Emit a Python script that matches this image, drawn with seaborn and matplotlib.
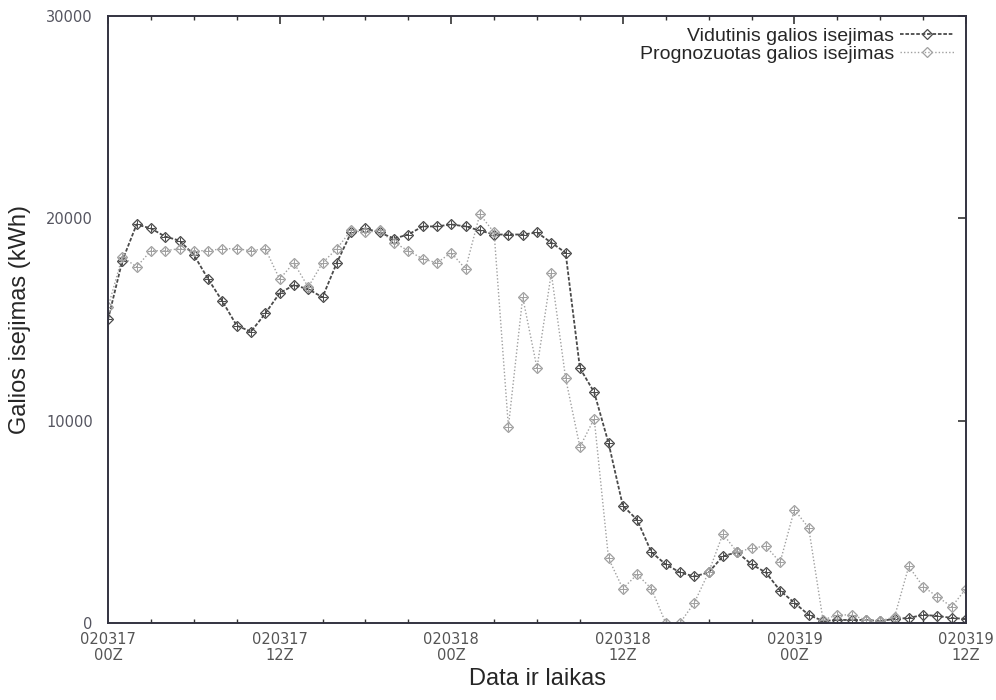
import numpy as np
import pandas as pd
import matplotlib
matplotlib.use("Agg")
import matplotlib.pyplot as plt
import seaborn as sns
from matplotlib.ticker import MultipleLocator

# hours since 020317 00Z
hours = list(range(0, 61))

actual = [15000, 17900, 19700, 19500, 19100, 18900, 18200, 17000, 15900, 14700,
          14400, 15300, 16300, 16700, 16500, 16100, 17800, 19300, 19500, 19300,
          19000, 19200, 19600, 19600, 19700, 19600, 19400, 19200, 19200, 19200,
          19300, 18800, 18300, 12600, 11400, 8900, 5800, 5100, 3500, 2900,
          2500, 2300, 2500, 3300, 3500, 2900, 2500, 1600, 1000, 400,
          100, 150, 150, 150, 100, 200, 250, 400, 350, 250, 200]

forecast = [15600, 18100, 17600, 18400, 18400, 18500, 18400, 18400, 18500, 18500,
            18400, 18500, 17000, 17800, 16600, 17800, 18500, 19400, 19300, 19400,
            18800, 18400, 18000, 17800, 18300, 17500, 20200, 19300, 9700, 16100,
            12600, 17300, 12100, 8700, 10100, 3200, 1700, 2400, 1700, 0,
            0, 1000, 2500, 4400, 3500, 3700, 3800, 3000, 5600, 4700,
            150, 400, 400, 150, 100, 300, 2800, 1800, 1300, 800, 1700]

tick_hours = [0, 12, 24, 36, 48, 60]
tick_labels = ["020317\n00Z", "020317\n12Z", "020318\n00Z", "020318\n12Z",
               "020319\n00Z", "020319\n12Z"]
series_names = ["Vidutinis galios isejimas", "Prognozuotas galios isejimas"]

df = pd.DataFrame({
    "h": hours * 2,
    "v": actual + forecast,
    "s": [series_names[0]] * len(hours) + [series_names[1]] * len(hours),
})

sns.set_style("white")
plt.rcParams["font.family"] = ["Liberation Sans", "DejaVu Sans"]

fig = plt.figure(figsize=(9.96, 7.0), dpi=100)
ax = fig.add_axes([108 / 996, 1 - 623 / 700, (966 - 108) / 996, (623 - 16) / 700])

colors = {series_names[0]: "#4a4a4a", series_names[1]: "#a0a0a0"}
dashes = {series_names[0]: (2, 1), series_names[1]: (1, 1.5)}
widths = {series_names[0]: 1.3, series_names[1]: 1.0}

for name in series_names:
    sub = df[df["s"] == name]
    sns.lineplot(data=sub, x="h", y="v", ax=ax, color=colors[name],
                 linewidth=widths[name], dashes=False, label=name,
                 marker="D", markersize=5, markerfacecolor="none",
                 markeredgecolor=colors[name], markeredgewidth=0.9)
    ax.lines[-1].set_dashes(dashes[name])
    ax.plot(sub["h"], sub["v"], linestyle="none", marker="+", markersize=6,
            color=colors[name], markeredgewidth=0.7)

ax.set_xlim(0, 60)
ax.set_ylim(0, 30000)
ax.set_xticks(tick_hours)
ax.set_xticklabels(tick_labels, family="DejaVu Sans", fontsize=10.5, color="#555555",
                   linespacing=1.05)
ax.set_yticks([0, 10000, 20000, 30000])
ax.set_yticklabels(["0", "10000", "20000", "30000"], family="DejaVu Sans",
                   fontsize=10.5, color="#555560")
ax.xaxis.set_minor_locator(MultipleLocator(3))
ax.tick_params(axis="both", which="major", direction="in", length=6, width=1.2,
               top=True, right=True, color="#333333")
ax.tick_params(axis="x", which="major", pad=6.5)
ax.tick_params(axis="y", which="major", pad=11)
ax.tick_params(axis="x", which="minor", direction="in", length=3, width=1.0,
               top=True, bottom=True, color="#333333")
for sp in ax.spines.values():
    sp.set_color("#333340")
    sp.set_linewidth(1.4)

ax.set_xlabel("Data ir laikas", fontsize=17, labelpad=4)
ax.set_ylabel("Galios isejimas (kWh)", fontsize=17, labelpad=11)

leg = ax.legend(loc="upper right", frameon=False, markerfirst=False, fontsize=14,
                handlelength=2.8, handletextpad=0.3, borderaxespad=0.2,
                labelspacing=0.0)

fig.savefig("out.png", dpi=100)
